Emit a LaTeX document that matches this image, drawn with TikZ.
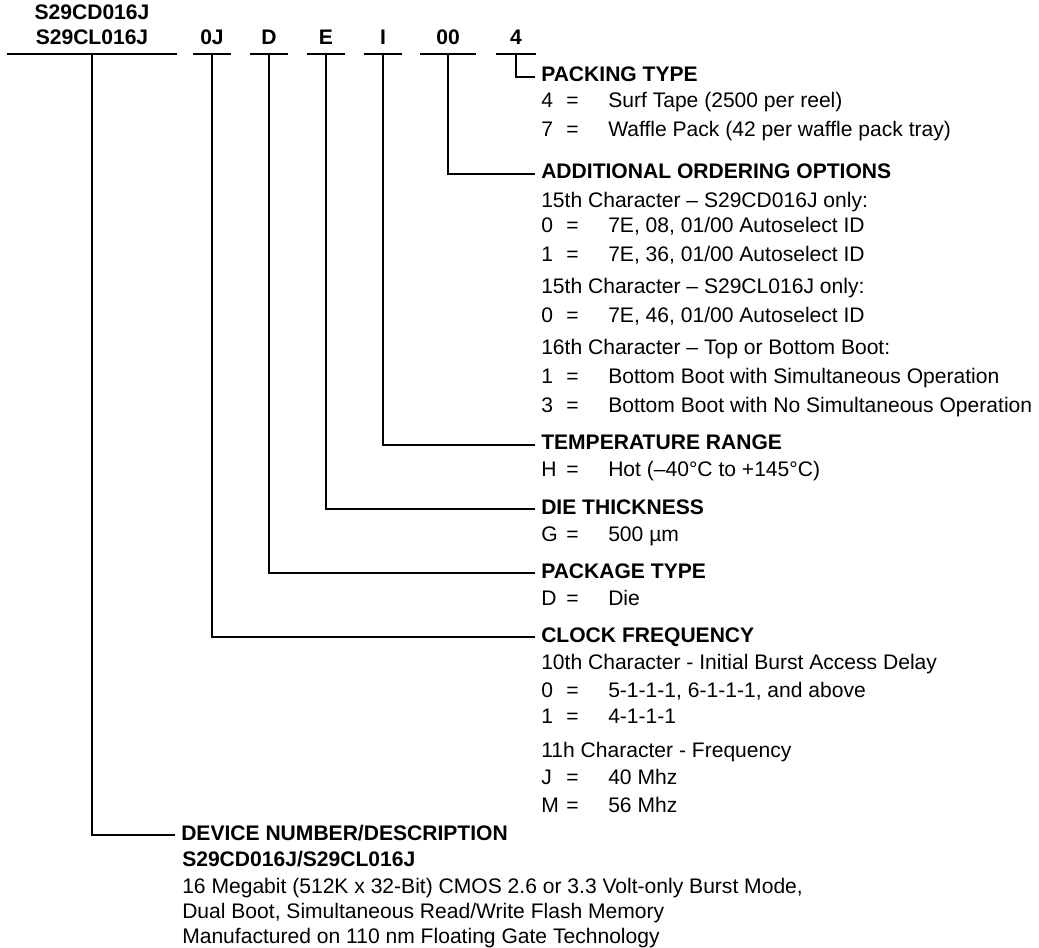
\documentclass[tikz,border=0pt]{standalone}
\usepackage{fontspec}
\setmainfont{Liberation Sans}
\newcommand{\basefont}{\fontsize{15.8pt}{19pt}\selectfont}
% key, equals sign and value of one option line
\newcommand{\opt}[2]{\makebox[18.75pt][l]{#1}\makebox[31.5pt][l]{=}#2}
\tikzset{
  lead/.style={line width=1.5pt},
  hdr/.style={font=\basefont\bfseries, anchor=south, inner xsep=0pt, inner ysep=6.75pt, text height=0.72em, text depth=0pt},
  head/.style={font=\basefont\bfseries, anchor=base west, inner xsep=4.5pt, inner ysep=0pt, text height=0.72em, text depth=0pt},
  txt/.style={font=\basefont, anchor=base west, inner sep=0pt},
}
\begin{document}
\begin{tikzpicture}[x=0.75pt,y=-0.75pt]
	\useasboundingbox (0,0) rectangle (1039,948);
	% part number fields
	\node[font=\basefont\bfseries, anchor=base] (hdevtop) at (92,20) {S29CD016J};
	\node[hdr, minimum width=127.5pt] (hdev) at (92,54) {S29CL016J};
	\node[hdr, minimum width=27.75pt] (hclk) at (212,54) {0J};
	\node[hdr, minimum width=27.75pt] (hpkg) at (269,54) {D};
	\node[hdr, minimum width=28.5pt] (hdie) at (326,54) {E};
	\node[hdr, minimum width=28.5pt] (htemp) at (383,54) {I};
	\node[hdr, minimum width=41.25pt] (hadd) at (448,54) {00};
	\node[hdr, minimum width=30pt] (hpack) at (516,54) {4};
	\foreach \f in {hdev,hclk,hpkg,hdie,htemp,hadd,hpack}
		\draw[lead] (\f.south west) -- (\f.south east);

	% packing type
	\node[head] (pack) at (535,82) {PACKING TYPE};
	\node[txt] (pack1) at (541,108) {\opt{4}{Surf Tape (2500 per reel)}};
	\node[txt] (pack2) at (541,137) {\opt{7}{Waffle Pack (42 per waffle pack tray)}};

	% additional ordering options
	\node[head] (add) at (535,179) {ADDITIONAL ORDERING OPTIONS};
	\node[txt] (add1) at (541,208) {15th Character – S29CD016J only:};
	\node[txt] (add2) at (541,233) {\opt{0}{7E, 08, 01/00 Autoselect ID}};
	\node[txt] (add3) at (541,262) {\opt{1}{7E, 36, 01/00 Autoselect ID}};
	\node[txt] (add4) at (541,294) {15th Character – S29CL016J only:};
	\node[txt] (add5) at (541,323) {\opt{0}{7E, 46, 01/00 Autoselect ID}};
	\node[txt] (add6) at (541,355) {16th Character – Top or Bottom Boot:};
	\node[txt] (add7) at (541,384) {\opt{1}{Bottom Boot with Simultaneous Operation}};
	\node[txt] (add8) at (541,413) {\opt{3}{Bottom Boot with No Simultaneous Operation}};

	% temperature, die, package
	\node[head] (temp) at (535,450) {TEMPERATURE RANGE};
	\node[txt] (temp1) at (541,477) {\opt{H}{Hot (–40°C to +145°C)}};
	\node[head] (die) at (535,514) {DIE THICKNESS};
	\node[txt] (die1) at (541,541) {\opt{G}{500 µm}};
	\node[head] (pkg) at (535,578) {PACKAGE TYPE};
	\node[txt] (pkg1) at (541,605) {\opt{D}{Die}};

	% clock frequency
	\node[head] (clk) at (535,642) {CLOCK FREQUENCY};
	\node[txt] (clk1) at (541,669) {10th Character - Initial Burst Access Delay};
	\node[txt] (clk2) at (541,697) {\opt{0}{5-1-1-1, 6-1-1-1, and above}};
	\node[txt] (clk3) at (541,723) {\opt{1}{4-1-1-1}};
	\node[txt] (clk4) at (541,757) {11h Character - Frequency};
	\node[txt] (clk5) at (541,784) {\opt{J}{40 Mhz}};
	\node[txt] (clk6) at (541,812) {\opt{M}{56 Mhz}};

	% device number
	\node[head] (dev) at (175,840) {DEVICE NUMBER/DESCRIPTION};
	\node[txt, font=\basefont\bfseries] (dev1) at (182,866) {S29CD016J/S29CL016J};
	\node[txt] (dev2) at (182,893) {16 Megabit (512K x 32-Bit) CMOS 2.6 or 3.3 Volt-only Burst Mode,};
	\node[txt] (dev3) at (182,918) {Dual Boot, Simultaneous Read/Write Flash Memory};
	\node[txt] (dev4) at (182,943) {Manufactured on 110 nm Floating Gate Technology};

	% leaders
	\draw[lead] (hpack.south) |- (pack.west);
	\draw[lead] (hadd.south) |- (add.west);
	\draw[lead] (htemp.south) |- (temp.west);
	\draw[lead] (hdie.south) |- (die.west);
	\draw[lead] (hpkg.south) |- (pkg.west);
	\draw[lead] (hclk.south) |- (clk.west);
	\draw[lead] (hdev.south) |- (dev.west);
\end{tikzpicture}
\end{document}
